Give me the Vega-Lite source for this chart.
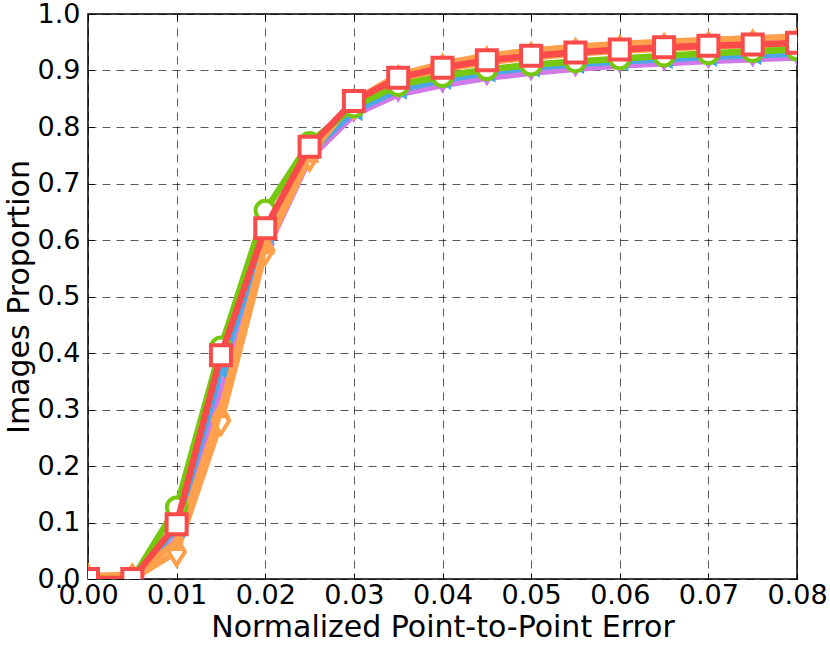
{
  "$schema": "https://vega.github.io/schema/vega-lite/v6.json",
  "width": 709,
  "height": 565,
  "autosize": "none",
  "padding": {"left": 88, "top": 14, "right": 33, "bottom": 72},
  "background": "white",
  "config": {
    "view": {"stroke": "black", "strokeWidth": 1.5},
    "font": "DejaVu Sans",
    "axis": {
      "labelFont": "DejaVu Sans",
      "titleFont": "DejaVu Sans",
      "labelFontSize": 27,
      "titleFontSize": 30,
      "labelColor": "black",
      "titleColor": "black",
      "titleFontWeight": "normal",
      "domain": false,
      "tickColor": "black",
      "tickSize": -6,
      "tickWidth": 1,
      "grid": true,
      "gridColor": "black",
      "gridOpacity": 0.65,
      "gridDash": [8, 6],
      "gridWidth": 1
    }
  },
  "datasets": {
    "curves": [
      {"s": "purple", "x": 0, "y": 0}, {"s": "purple", "x": 0.005, "y": 0}, {"s": "purple", "x": 0.01, "y": 0.07}, {"s": "purple", "x": 0.015, "y": 0.33}, {"s": "purple", "x": 0.02, "y": 0.578}, {"s": "purple", "x": 0.025, "y": 0.745}, {"s": "purple", "x": 0.03, "y": 0.822}, {"s": "purple", "x": 0.035, "y": 0.858}, {"s": "purple", "x": 0.04, "y": 0.874}, {"s": "purple", "x": 0.045, "y": 0.887}, {"s": "purple", "x": 0.05, "y": 0.896}, {"s": "purple", "x": 0.055, "y": 0.903}, {"s": "purple", "x": 0.06, "y": 0.909}, {"s": "purple", "x": 0.065, "y": 0.913}, {"s": "purple", "x": 0.07, "y": 0.917}, {"s": "purple", "x": 0.075, "y": 0.92}, {"s": "purple", "x": 0.08, "y": 0.923},
      {"s": "odiam", "x": 0, "y": 0}, {"s": "odiam", "x": 0.005, "y": 0}, {"s": "odiam", "x": 0.01, "y": 0.048}, {"s": "odiam", "x": 0.015, "y": 0.28}, {"s": "odiam", "x": 0.02, "y": 0.582}, {"s": "odiam", "x": 0.025, "y": 0.748}, {"s": "odiam", "x": 0.03, "y": 0.84}, {"s": "odiam", "x": 0.035, "y": 0.882}, {"s": "odiam", "x": 0.04, "y": 0.902}, {"s": "odiam", "x": 0.045, "y": 0.915}, {"s": "odiam", "x": 0.05, "y": 0.923}, {"s": "odiam", "x": 0.055, "y": 0.93}, {"s": "odiam", "x": 0.06, "y": 0.935}, {"s": "odiam", "x": 0.065, "y": 0.939}, {"s": "odiam", "x": 0.07, "y": 0.942}, {"s": "odiam", "x": 0.075, "y": 0.945}, {"s": "odiam", "x": 0.08, "y": 0.947},
      {"s": "blue", "x": 0, "y": 0}, {"s": "blue", "x": 0.005, "y": 0}, {"s": "blue", "x": 0.01, "y": 0.09}, {"s": "blue", "x": 0.015, "y": 0.37}, {"s": "blue", "x": 0.02, "y": 0.61}, {"s": "blue", "x": 0.025, "y": 0.755}, {"s": "blue", "x": 0.03, "y": 0.828}, {"s": "blue", "x": 0.035, "y": 0.866}, {"s": "blue", "x": 0.04, "y": 0.883}, {"s": "blue", "x": 0.045, "y": 0.896}, {"s": "blue", "x": 0.05, "y": 0.905}, {"s": "blue", "x": 0.055, "y": 0.911}, {"s": "blue", "x": 0.06, "y": 0.916}, {"s": "blue", "x": 0.065, "y": 0.92}, {"s": "blue", "x": 0.07, "y": 0.924}, {"s": "blue", "x": 0.075, "y": 0.927}, {"s": "blue", "x": 0.08, "y": 0.93},
      {"s": "otri", "x": 0, "y": 0.005}, {"s": "otri", "x": 0.005, "y": 0.008}, {"s": "otri", "x": 0.01, "y": 0.065}, {"s": "otri", "x": 0.015, "y": 0.3}, {"s": "otri", "x": 0.02, "y": 0.59}, {"s": "otri", "x": 0.025, "y": 0.752}, {"s": "otri", "x": 0.03, "y": 0.846}, {"s": "otri", "x": 0.035, "y": 0.892}, {"s": "otri", "x": 0.04, "y": 0.912}, {"s": "otri", "x": 0.045, "y": 0.926}, {"s": "otri", "x": 0.05, "y": 0.935}, {"s": "otri", "x": 0.055, "y": 0.942}, {"s": "otri", "x": 0.06, "y": 0.947}, {"s": "otri", "x": 0.065, "y": 0.951}, {"s": "otri", "x": 0.07, "y": 0.954}, {"s": "otri", "x": 0.075, "y": 0.957}, {"s": "otri", "x": 0.08, "y": 0.96},
      {"s": "green", "x": 0, "y": 0}, {"s": "green", "x": 0.005, "y": 0}, {"s": "green", "x": 0.01, "y": 0.127}, {"s": "green", "x": 0.015, "y": 0.41}, {"s": "green", "x": 0.02, "y": 0.652}, {"s": "green", "x": 0.025, "y": 0.772}, {"s": "green", "x": 0.03, "y": 0.836}, {"s": "green", "x": 0.035, "y": 0.874}, {"s": "green", "x": 0.04, "y": 0.89}, {"s": "green", "x": 0.045, "y": 0.902}, {"s": "green", "x": 0.05, "y": 0.91}, {"s": "green", "x": 0.055, "y": 0.916}, {"s": "green", "x": 0.06, "y": 0.921}, {"s": "green", "x": 0.065, "y": 0.926}, {"s": "green", "x": 0.07, "y": 0.93}, {"s": "green", "x": 0.075, "y": 0.934}, {"s": "green", "x": 0.08, "y": 0.937},
      {"s": "red", "x": 0, "y": 0}, {"s": "red", "x": 0.005, "y": 0}, {"s": "red", "x": 0.01, "y": 0.097}, {"s": "red", "x": 0.015, "y": 0.396}, {"s": "red", "x": 0.02, "y": 0.621}, {"s": "red", "x": 0.025, "y": 0.765}, {"s": "red", "x": 0.03, "y": 0.846}, {"s": "red", "x": 0.035, "y": 0.887}, {"s": "red", "x": 0.04, "y": 0.905}, {"s": "red", "x": 0.045, "y": 0.918}, {"s": "red", "x": 0.05, "y": 0.926}, {"s": "red", "x": 0.055, "y": 0.932}, {"s": "red", "x": 0.06, "y": 0.937}, {"s": "red", "x": 0.065, "y": 0.941}, {"s": "red", "x": 0.07, "y": 0.944}, {"s": "red", "x": 0.075, "y": 0.946}, {"s": "red", "x": 0.08, "y": 0.949}
    ]
  },
  "data": {"name": "curves"},
  "resolve": {"axis": {"x": "independent", "y": "independent"}},
  "layer": [
    {
      "encoding": {
        "x": {"field": "x", "type": "quantitative", "scale": {"domain": [0, 0.08], "nice": false, "zero": false},
          "axis": {"title": "Normalized Point-to-Point Error", "format": ".2f", "values": [0, 0.01, 0.02, 0.03, 0.04, 0.05, 0.06, 0.07, 0.08], "labelPadding": 9, "titlePadding": 4, "labelFlush": false, "labelOverlap": false}},
        "y": {"field": "y", "type": "quantitative", "scale": {"domain": [0, 1], "nice": false, "zero": false},
          "axis": {"title": "Images Proportion", "format": ".1f", "values": [0, 0.1, 0.2, 0.3, 0.4, 0.5, 0.6, 0.7, 0.8, 0.9, 1.0], "labelPadding": 14, "titlePadding": 3, "labelFlush": false, "labelOverlap": false}}
      },
      "layer": [
        {"transform": [{"filter": "datum.s === 'purple'"}],
         "mark": {"type": "line", "color": "#CF7AE8", "strokeWidth": 6.5, "clip": true,
           "point": {"shape": "triangle-down", "filled": true, "color": "#CF7AE8", "size": 400, "clip": true}}},
        {"transform": [{"filter": "datum.s === 'odiam'"}],
         "mark": {"type": "line", "color": "#FFA04C", "strokeWidth": 6.5, "clip": true,
           "point": {"shape": "M0,-1L0.62,0L0,1L-0.62,0Z", "filled": true, "fill": "white", "stroke": "#FFA04C", "strokeWidth": 4, "size": 700, "clip": true}}},
        {"transform": [{"filter": "datum.s === 'blue'"}],
         "mark": {"type": "line", "color": "#4AA8E8", "strokeWidth": 6.5, "clip": true,
           "point": {"shape": "triangle-left", "filled": true, "color": "#4AA8E8", "size": 400, "clip": true}}},
        {"transform": [{"filter": "datum.s === 'otri'"}],
         "mark": {"type": "line", "color": "#FFA04C", "strokeWidth": 6.5, "clip": true,
           "point": {"shape": "triangle-up", "filled": true, "color": "#FFA04C", "size": 400, "clip": true}}},
        {"transform": [{"filter": "datum.s === 'green'"}],
         "mark": {"type": "line", "color": "#76C80E", "strokeWidth": 6.5, "clip": true,
           "point": {"shape": "circle", "filled": true, "fill": "white", "stroke": "#76C80E", "strokeWidth": 4, "size": 380, "clip": true}}},
        {"transform": [{"filter": "datum.s === 'red'"}],
         "mark": {"type": "line", "color": "#FA4B4B", "strokeWidth": 6.5, "clip": true,
           "point": {"shape": "square", "filled": true, "fill": "white", "stroke": "#FA4B4B", "strokeWidth": 4, "size": 400, "clip": true}}}
      ]
    },
    {
      "transform": [{"filter": "datum.s === 'red'"}],
      "mark": {"type": "point", "opacity": 0},
      "encoding": {
        "x": {"field": "x", "type": "quantitative", "scale": {"domain": [0, 0.08], "nice": false, "zero": false},
          "axis": {"orient": "top", "title": null, "labels": false, "grid": false, "values": [0, 0.01, 0.02, 0.03, 0.04, 0.05, 0.06, 0.07, 0.08]}},
        "y": {"field": "y", "type": "quantitative", "scale": {"domain": [0, 1], "nice": false, "zero": false},
          "axis": {"orient": "right", "title": null, "labels": false, "grid": false, "values": [0, 0.1, 0.2, 0.3, 0.4, 0.5, 0.6, 0.7, 0.8, 0.9, 1.0]}}
      }
    }
  ]
}
